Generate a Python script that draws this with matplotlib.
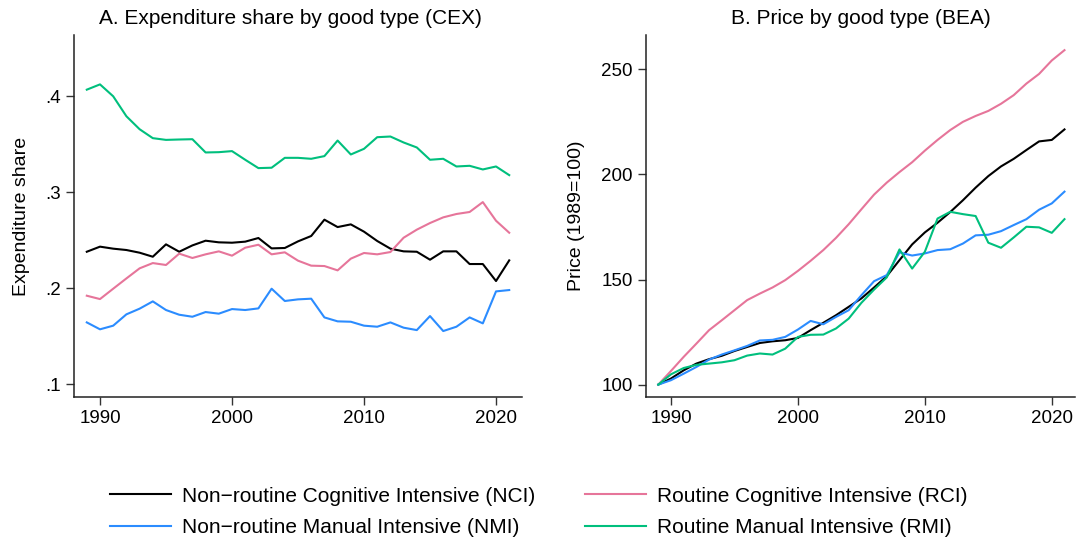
import numpy as np
import matplotlib
matplotlib.use('Agg')
import matplotlib.pyplot as plt

plt.rcParams['font.family'] = ['Liberation Sans', 'DejaVu Sans']
plt.rcParams['font.size'] = 13.5

# Data
years = np.arange(1989, 2022)

# Panel A: expenditure share (CEX)
share_nci = [0.2378, 0.2431, 0.2410, 0.2396, 0.2368, 0.2326, 0.2455, 0.2378, 0.2444, 0.2493,
             0.2476, 0.2472, 0.2483, 0.2521, 0.2413, 0.2417, 0.2486, 0.2542, 0.2712, 0.2635,
             0.2663, 0.2587, 0.2490, 0.2410, 0.2382, 0.2378, 0.2295, 0.2382, 0.2382, 0.2250,
             0.2250, 0.2073, 0.2288]
share_rci = [0.1920, 0.1885, 0.1993, 0.2100, 0.2205, 0.2260, 0.2240, 0.2358, 0.2313, 0.2351,
             0.2382, 0.2337, 0.2420, 0.2451, 0.2351, 0.2372, 0.2285, 0.2233, 0.2229, 0.2184,
             0.2306, 0.2365, 0.2351, 0.2375, 0.2524, 0.2608, 0.2677, 0.2736, 0.2771, 0.2792,
             0.2895, 0.2701, 0.2576]
share_nmi = [0.1642, 0.1570, 0.1608, 0.1726, 0.1785, 0.1861, 0.1771, 0.1722, 0.1701, 0.1750,
             0.1733, 0.1781, 0.1771, 0.1788, 0.1993, 0.1865, 0.1882, 0.1889, 0.1694, 0.1653,
             0.1649, 0.1608, 0.1597, 0.1642, 0.1587, 0.1562, 0.1708, 0.1552, 0.1597, 0.1694,
             0.1632, 0.1965, 0.1979]
share_rmi = [0.4066, 0.4121, 0.3997, 0.3789, 0.3654, 0.3561, 0.3543, 0.3547, 0.3550, 0.3412,
             0.3415, 0.3426, 0.3336, 0.3249, 0.3253, 0.3356, 0.3356, 0.3346, 0.3374, 0.3536,
             0.3391, 0.3450, 0.3571, 0.3578, 0.3516, 0.3464, 0.3336, 0.3346, 0.3266, 0.3273,
             0.3235, 0.3266, 0.3176]

# Panel B: price index (BEA), 1989=100
price_nci = [100.0, 102.9, 106.8, 110.0, 112.1, 113.7, 116.0, 117.9, 119.8, 120.6,
             121.1, 122.2, 125.9, 129.4, 133.0, 137.0, 141.0, 146.2, 151.6, 159.2,
             166.7, 172.4, 177.0, 182.1, 187.7, 193.7, 199.2, 203.8, 207.4, 211.6,
             215.7, 216.4, 221.4]
price_rci = [100.0, 106.5, 113.2, 119.5, 125.9, 130.6, 135.4, 140.2, 143.3, 146.2,
             149.7, 154.1, 158.9, 164.0, 169.8, 176.3, 183.4, 190.4, 196.1, 201.1,
             205.8, 211.3, 216.4, 221.1, 225.0, 227.8, 230.2, 233.6, 237.7, 243.2,
             247.8, 254.2, 259.1]
price_nmi = [100.0, 102.1, 105.2, 108.4, 111.9, 114.3, 116.3, 118.4, 121.0, 121.3,
             122.7, 126.2, 130.3, 128.7, 132.2, 135.4, 142.5, 149.2, 152.1, 162.9,
             161.4, 162.4, 164.0, 164.4, 167.1, 171.0, 171.3, 173.0, 175.9, 178.7,
             183.2, 186.2, 191.8]
price_rmi = [100.0, 104.9, 107.9, 109.4, 110.0, 110.6, 111.6, 113.8, 114.8, 114.3,
             117.1, 122.7, 123.7, 123.8, 126.7, 131.4, 138.9, 145.2, 151.0, 164.3,
             155.2, 163.2, 179.0, 182.2, 181.1, 180.2, 167.5, 165.1, 170.0, 175.1,
             174.8, 172.2, 178.7]

labels = ['Non\u2212routine Cognitive Intensive (NCI)', 'Routine Cognitive Intensive (RCI)',
          'Non\u2212routine Manual Intensive (NMI)', 'Routine Manual Intensive (RMI)']
colors = ['#000000', '#E6759A', '#2B8CFF', '#00BF7D']

fig = plt.figure(figsize=(10.77, 5.44), dpi=100)
axA = fig.add_axes([0.0687, 0.2702, 0.416, 0.6654])
axB = fig.add_axes([0.5998, 0.2702, 0.398, 0.6654])

def style(ax):
    for s in ['top', 'right']:
        ax.spines[s].set_visible(False)
    for s in ['left', 'bottom']:
        ax.spines[s].set_linewidth(1.1)
        ax.spines[s].set_color('#222222')
    ax.tick_params(length=6, width=1.0, pad=3.5, color='#333333')
    ax.set_xticks([1990, 2000, 2010, 2020])

# Panel A
lines = []
for vals, c in zip([share_nci, share_rci, share_nmi, share_rmi], colors):
    l, = axA.plot(years, vals, color=c, lw=1.5)
    lines.append(l)
style(axA)
axA.set_xlim(1988.03, 2021.97)
axA.set_ylim(0.0865, 0.4635)
axA.set_yticks([0.1, 0.2, 0.3, 0.4])
axA.set_yticklabels(['.1', '.2', '.3', '.4'])
axA.set_ylabel('Expenditure share', labelpad=11, fontsize=14)

# Panel B
for vals, c in zip([price_nci, price_rci, price_nmi, price_rmi], colors):
    axB.plot(years, vals, color=c, lw=1.5)
style(axB)
axB.set_xlim(1988.03, 2021.8)
axB.set_ylim(94.1, 266.3)
axB.set_yticks([100, 150, 200, 250])
axB.set_ylabel('Price (1989=100)', labelpad=12, fontsize=14)

fig.text(290 / 1077, 1 - 18 / 544, 'A. Expenditure share by good type (CEX)',
         ha='center', va='center', fontsize=15)
fig.text(861 / 1077, 1 - 18 / 544, 'B. Price by good type (BEA)',
         ha='center', va='center', fontsize=15)

# legend fills column by column, so reorder to get NCI/RCI on the first row
order = [0, 2, 1, 3]
fig.legend([lines[i] for i in order], [labels[i] for i in order], ncol=2, loc='center',
           bbox_to_anchor=(539 / 1077, 1 - 512 / 544), frameon=False, fontsize=15,
           handlelength=2.9, handletextpad=0.55, columnspacing=2.4, labelspacing=0.62)

fig.savefig('out.png', dpi=100)
